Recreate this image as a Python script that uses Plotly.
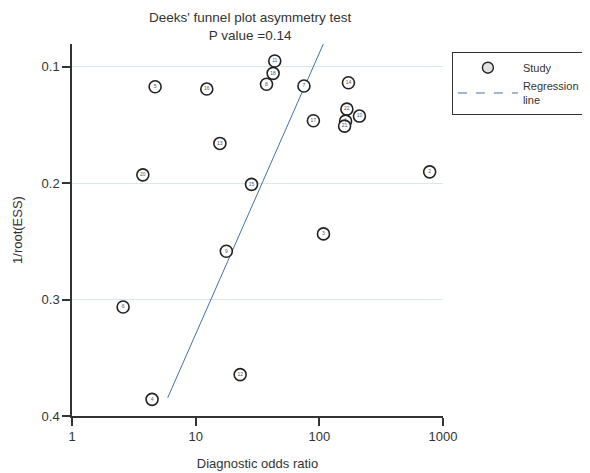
import plotly.graph_objects as go

study_ids = ["19", "11", "18", "5", "16", "8", "7", "14", "22", "10", "17", "1", "21",
             "13", "20", "15", "2", "3", "9", "6", "12", "4"]
dor = [528, 43.6, 42.3, 4.70, 12.3, 37.4, 75.1, 172, 167, 211, 89.5, 163, 160,
       15.7, 3.74, 28.3, 780, 108, 17.7, 2.59, 22.9, 4.44]
inv_root_ess = [0.0802, 0.0951, 0.1057, 0.1172, 0.1192, 0.1151, 0.1166, 0.1138, 0.1364,
                0.1424, 0.1464, 0.1467, 0.151, 0.1659, 0.1929, 0.2011, 0.1903, 0.2436,
                0.2585, 0.3064, 0.3645, 0.3857]
reg_x = [5.94, 107.7]
reg_y = [0.3843, 0.0805]
x_ticks = [1, 10, 100, 1000]
y_ticks = [0.1, 0.2, 0.3, 0.4]

FONT = "Arial, Liberation Sans, Helvetica, sans-serif"
LINE_COLOR = "#4470a8"

fig = go.Figure()
fig.add_trace(go.Scatter(
    x=reg_x, y=reg_y, mode="lines", showlegend=False,
    line=dict(color=LINE_COLOR, width=1), cliponaxis=False, hoverinfo="skip"))
fig.add_trace(go.Scatter(
    x=dor, y=inv_root_ess, mode="markers+text", name="Study", showlegend=False,
    text=study_ids, textposition="middle center",
    textfont=dict(size=5, color="#555", family=FONT),
    marker=dict(size=12, color="white", line=dict(color="#222", width=1.6)),
    cliponaxis=False))
# legend entries
fig.add_trace(go.Scatter(
    x=[None], y=[None], mode="markers", name="Study",
    marker=dict(size=11, color="#e2e2e2", line=dict(color="#222", width=1.4))))
fig.add_trace(go.Scatter(
    x=[None], y=[None], mode="lines", name="Regression<br>line",
    line=dict(color=LINE_COLOR, width=1, dash="dash")))

# the page body adds an 8px offset; the figure is sized/positioned to compensate
fig.update_layout(
    width=582, height=465,
    paper_bgcolor="white", plot_bgcolor="white",
    margin=dict(l=64, r=147, t=36, b=57, autoexpand=False),
    font=dict(family=FONT, color="#333", size=13),
    showlegend=True,
    legend=dict(x=1.024, y=0.978, xanchor="left", yanchor="top",
                bordercolor="#333", borderwidth=1, bgcolor="white",
                font=dict(size=11, color="#333", family=FONT),
                itemwidth=60, tracegroupgap=4),
    annotations=[dict(
        text="Deeks' funnel plot asymmetry test<br>P value =0.14",
        xref="paper", yref="paper", x=(250 - 72) / 371, y=1,
        xanchor="center", yanchor="bottom", yshift=-1, showarrow=False,
        font=dict(size=13.5, color="#333", family=FONT))],
)
fig.update_xaxes(
    type="log", range=[0, 3], tickvals=x_ticks, ticktext=[str(v) for v in x_ticks],
    showgrid=False, zeroline=False, showline=True, linecolor="#333", linewidth=1.5,
    ticks="outside", ticklen=8, tickcolor="#333", tickwidth=1.5,
    tickfont=dict(size=13, color="#333"), automargin=False,
    title=dict(text="Diagnostic odds ratio", font=dict(size=13, color="#333"), standoff=16))
fig.update_yaxes(
    range=[0.4, 0.0805], tickvals=y_ticks, ticktext=["0.1", "0.2", "0.3", "0.4"],
    showgrid=True, gridcolor="#d9e8ed", gridwidth=1, zeroline=False,
    showline=True, linecolor="#333", linewidth=1.5,
    ticks="outside", ticklen=8, tickcolor="#333", tickwidth=1.5,
    tickfont=dict(size=13, color="#333"), automargin=False,
    title=dict(text="1/root(ESS)", font=dict(size=13, color="#333"), standoff=16))

fig.write_html("out.html")
